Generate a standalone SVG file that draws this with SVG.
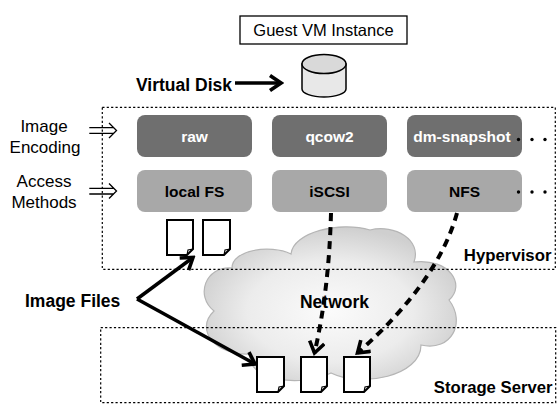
<svg xmlns="http://www.w3.org/2000/svg" width="558" height="407" viewBox="0 0 558 407">
<style>
text{font-family:"Liberation Sans",Arial,Helvetica,sans-serif;fill:#000}
.b{font-weight:bold}
.dot{fill:none;stroke:#000;stroke-width:1.2;stroke-dasharray:2.2 2.2}
.enc{fill:#6f6f6f}
.acc{fill:#a8a8a8}
.lbl{font-weight:bold;font-size:15.5px;text-anchor:middle}
.file{fill:#fff;stroke:#000;stroke-width:2;stroke-linejoin:miter}
.fold{fill:none;stroke:#000;stroke-width:1.2}
.thick{fill:none;stroke:#000;stroke-width:3.5}
.dash{fill:none;stroke:#000;stroke-width:4;stroke-dasharray:8 6}
.dbl{fill:none;stroke:#000;stroke-width:1.3}
.dots{fill:#000}
</style>
<defs>
<marker id="chev" viewBox="0 0 16 18" refX="13" refY="9" markerWidth="16" markerHeight="18" markerUnits="userSpaceOnUse" orient="auto">
<path d="M2,1.5 L13,9 L2,16.5" fill="none" stroke="#000" stroke-width="3.6" stroke-linecap="butt" stroke-linejoin="miter"/>
</marker>
<radialGradient id="cg" cx="0.5" cy="0.55" r="0.55">
<stop offset="0" stop-color="#fbfbfb"/>
<stop offset="0.6" stop-color="#ececec"/>
<stop offset="1" stop-color="#cfcfcf"/>
</radialGradient>
</defs>

<g id="guest-vm">
<rect x="240" y="16" width="167" height="28" fill="#fff" stroke="#000" stroke-width="1.3"/>
<text x="323.5" y="35.5" font-size="16.5" text-anchor="middle">Guest VM Instance</text>
</g>

<g id="virtual-disk">
<path d="M302,64 L302,89 A22,8 0 0 0 346,89 L346,64 Z" fill="#e8e8e8" stroke="#000" stroke-width="1.5"/>
<ellipse cx="324" cy="64" rx="22" ry="9.5" fill="#d9d9d9" stroke="#000" stroke-width="1.5"/>
</g>

<g id="cloud">
<path d="M232,268 C232,250 270,244 291,254 C293,232 340,221 370,230 C395,224 422,240 414,262 C450,258 466,285 449,300 C466,322 452,352 421,345 C421,376 362,388 331,373 C300,388 246,380 250,354 C216,356 194,330 214,311 C195,296 205,266 232,268 Z" fill="url(#cg)" stroke="#b5b5b5" stroke-width="1.2"/>
<text x="334.5" y="308" font-size="17.5" class="b" text-anchor="middle">Network</text>
</g>

<g id="hypervisor">
<rect x="102.3" y="107.3" width="453" height="162" class="dot"/>
<text x="551.5" y="261" font-size="16.8" class="b" text-anchor="end">Hypervisor</text>
</g>

<g id="storage-server">
<rect x="100.7" y="327.7" width="455" height="75" class="dot"/>
<text x="552.5" y="393" font-size="16.7" class="b" text-anchor="end">Storage Server</text>
</g>

<g id="raw"><rect x="137" y="115" width="115" height="42" rx="8" class="enc"/><text x="194.5" y="141.5" class="lbl" style="fill:#fff">raw</text></g>
<g id="qcow2"><rect x="272" y="115" width="115" height="42" rx="8" class="enc"/><text x="329.5" y="141.5" class="lbl" style="fill:#fff">qcow2</text></g>
<g id="dm-snapshot"><rect x="407" y="115" width="115" height="42" rx="8" class="enc"/><text x="462" y="141.5" class="lbl" style="fill:#fff">dm-snapshot</text></g>
<g id="local-fs"><rect x="137" y="170" width="115" height="42" rx="8" class="acc"/><text x="194.5" y="196.5" class="lbl">local FS</text></g>
<g id="iscsi"><rect x="272" y="170" width="115" height="42" rx="8" class="acc"/><text x="329.5" y="196.5" class="lbl">iSCSI</text></g>
<g id="nfs"><rect x="407" y="170" width="115" height="42" rx="8" class="acc"/><text x="464.5" y="196.5" class="lbl">NFS</text></g>

<g id="more-dots">
<circle cx="518.5" cy="139.5" r="1.7" class="dots"/><circle cx="532" cy="139.5" r="1.7" class="dots"/><circle cx="545" cy="139.5" r="1.7" class="dots"/>
<circle cx="518.5" cy="192" r="1.7" class="dots"/><circle cx="532" cy="192" r="1.7" class="dots"/><circle cx="545" cy="192" r="1.7" class="dots"/>
</g>

<g id="left-labels">
<text x="44" y="132" font-size="17" text-anchor="middle">Image</text>
<text x="45" y="153" font-size="17" text-anchor="middle">Encoding</text>
<text x="44" y="187" font-size="17" text-anchor="middle">Access</text>
<text x="44" y="208" font-size="17" text-anchor="middle">Methods</text>
<text x="136" y="90.5" font-size="17.5" class="b">Virtual Disk</text>
<text x="25" y="306.5" font-size="17.5" class="b">Image Files</text>
</g>

<g id="image-files-hyp">
<path d="M167,220 h26 v29 l-6,6 h-20 z" class="file"/><path d="M187,255 l1,-5 l5,-1" class="fold"/>
<path d="M203,220 h27 v29 l-6,6 h-21 z" class="file"/><path d="M224,255 l1,-5 l5,-1" class="fold"/>
</g>

<g id="image-files-storage">
<path d="M257,357 h27 v29 l-6,6 h-21 z" class="file"/><path d="M278,392 l1,-5 l5,-1" class="fold"/>
<path d="M301,357 h26 v29 l-6,6 h-20 z" class="file"/><path d="M321,392 l1,-5 l5,-1" class="fold"/>
<path d="M344,357 h26 v29 l-6,6 h-20 z" class="file"/><path d="M364,392 l1,-5 l5,-1" class="fold"/>
</g>

<g id="connectors">
<path d="M235,83 H281" class="thick" marker-end="url(#chev)"/>
<path d="M89.3,127.7 H114 M89.3,133.3 H114 M109,123 L116.5,130.5 L109,138" class="dbl"/>
<path d="M89.3,188.3 H114 M89.3,194 H114 M109,183.5 L116.5,191 L109,198.5" class="dbl"/>
<path d="M137,299 L193,257.5" class="thick" marker-end="url(#chev)"/>
<path d="M137,299 L255,364" class="thick" marker-end="url(#chev)"/>
<path d="M331,213 Q329,290 314.5,353" class="dash" marker-end="url(#chev)"/>
<path d="M457,213 Q438,282 357.5,353" class="dash" marker-end="url(#chev)"/>
</g>
</svg>
